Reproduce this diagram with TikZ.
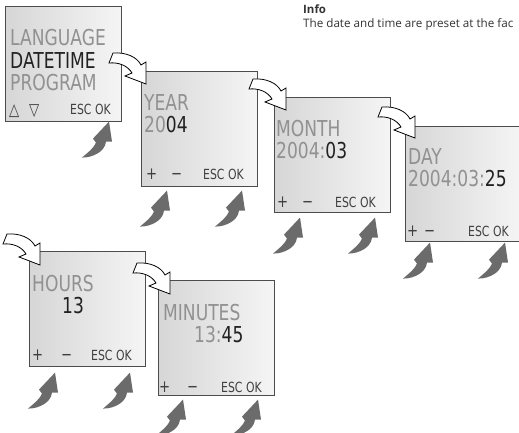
\documentclass[tikz,border=0pt]{standalone}
\usepackage{fontspec}
\setmainfont{Open Sans}
\newfontfamily\lcdfont{DejaVu Sans}[FakeStretch=0.78]
\usetikzlibrary{positioning}
\definecolor{lcdGrey}{gray}{0.57}
\definecolor{lcdDark}{gray}{0.13}
\definecolor{keyGrey}{gray}{0.25}
\definecolor{pressGrey}{gray}{0.42}

\begin{document}
\begin{tikzpicture}
  [x=1bp,y=-1bp,
   screenN/.style={draw=black!70,line width=0.6bp,minimum width=116bp,minimum height=115bp,
     inner sep=0,anchor=north west,left color=black!16,right color=black!4},
   lcdN/.style={font=\lcdfont\fontsize{22}{22}\selectfont,text=lcdGrey,inner sep=0,anchor=base west},
   keyN/.style={font=\lcdfont\fontsize{14}{14}\selectfont,text=keyGrey,inner sep=0,anchor=base west},
   signN/.style={keyN,font=\lcdfont\fontsize{17}{17}\selectfont},
   infoN/.style={font=\fontsize{11.7}{14}\selectfont,text=black!80,inner sep=0,anchor=base west},
   hot/.style={text=lcdDark},
   nextA/.pic={\filldraw[fill=white,draw=black,line width=0.8bp]
     (0,0) -- (-21,-8) -- (-14,-11) .. controls (-18,-18) and (-27,-22) .. (-37,-21)
     -- (-33,-31) .. controls (-20,-32) and (-9,-27) .. (-5,-19) -- (0,-22) -- cycle;},
   pressA/.pic={\fill[pressGrey]
     (0,0) -- (3,20) -- (-3,20) .. controls (-4,30) and (-16,36) .. (-27,36)
     .. controls (-20,30) and (-15,26) .. (-13,21) -- (-16,17) -- cycle;}]

  \path[use as bounding box,fill=white] (0,0) rectangle (519,433);

  % info text
  \node[infoN,font=\bfseries\fontsize{11.5}{14}\selectfont] (infoH) at (303,14) {Info};
  \node[infoN] (infoT) at (303,28) {The date and time are preset at the fac};

  % screens
  \node[screenN] (lang)    at (5,6)     {};
  \node[screenN] (year)    at (141,71)  {};
  \node[screenN] (month)   at (274,97)  {};
  \node[screenN] (day)     at (405,126) {};
  \node[screenN] (hours)   at (29,251)  {};
  \node[screenN] (minutes) at (158,280) {};

  % menu
  \node[lcdN]     (langA) at (10,46) {LANGUAGE};
  \node[lcdN,hot] (langB) at (10,69) {DATETIME};
  \node[lcdN]     (langC) at (10,91) {PROGRAM};
  \node[signN]    (langU) at (9,116)  {△};
  \node[signN]    (langD) at (29,116) {▽};
  \node[keyN]     (langK) at (70,115) {ESC OK};

  % year
  \node[lcdN] (yearT) at (144,111) {YEAR};
  \node[lcdN] (yearV) at (144,133) {20\textcolor{lcdDark}{04}};
  \node[signN] (yearP) at (146,180) {+};
  \node[signN] (yearM) at (171,180) {−};
  \node[keyN]  (yearK) at (203,180) {ESC OK};

  % month
  \node[lcdN] (monthT) at (276,137) {MONTH};
  \node[lcdN] (monthV) at (276,159) {2004:\textcolor{lcdDark}{03}};
  \node[signN] (monthP) at (277,208) {+};
  \node[signN] (monthM) at (302,208) {−};
  \node[keyN]  (monthK) at (335,208) {ESC OK};

  % day
  \node[lcdN] (dayT) at (408,165) {DAY};
  \node[lcdN] (dayV) at (408,187) {2004:03:\textcolor{lcdDark}{25}};
  \node[signN] (dayP) at (407,237) {+};
  \node[signN] (dayM) at (424,237) {−};
  \node[keyN]  (dayK) at (468,237) {ESC OK};

  % hours
  \node[lcdN]     (hoursT) at (32,291) {HOURS};
  \node[lcdN,hot] (hoursV) at (62,313) {13};
  \node[signN] (hoursP) at (32,360) {+};
  \node[signN] (hoursM) at (61,360) {−};
  \node[keyN]  (hoursK) at (91,360) {ESC OK};

  % minutes
  \node[lcdN] (minT) at (163,320) {MINUTES};
  \node[lcdN] (minV) at (194,342) {13:\textcolor{lcdDark}{45}};
  \node[signN] (minP) at (159,392) {+};
  \node[signN] (minM) at (187,392) {−};
  \node[keyN]  (minK) at (221,392) {ESC OK};

  % next screen
  \pic at ([shift={(5,13)}]year.north west)     {nextA};
  \pic at ([shift={(12,13)}]month.north west)   {nextA};
  \pic at ([shift={(10,12)}]day.north west)     {nextA};
  \pic at ([shift={(11,14)}]hours.north west)   {nextA};
  \pic at ([shift={(12,14)}]minutes.north west) {nextA};

  % key presses
  \pic at ([shift={(104,0)}]lang.south west)   {pressA};
  \pic at ([shift={(26,4)}]year.south west)    {pressA};
  \pic at ([shift={(101,4)}]year.south west)   {pressA};
  \pic at ([shift={(26,5)}]month.south west)   {pressA};
  \pic at ([shift={(101,5)}]month.south west)  {pressA};
  \pic at ([shift={(25,1)}]day.south west)     {pressA};
  \pic at ([shift={(100,1)}]day.south west)    {pressA};
  \pic at ([shift={(26,6)}]hours.south west)   {pressA};
  \pic at ([shift={(101,6)}]hours.south west)  {pressA};
  \pic at ([shift={(25,4)}]minutes.south west) {pressA};
  \pic at ([shift={(100,4)}]minutes.south west) {pressA};
\end{tikzpicture}
\end{document}
